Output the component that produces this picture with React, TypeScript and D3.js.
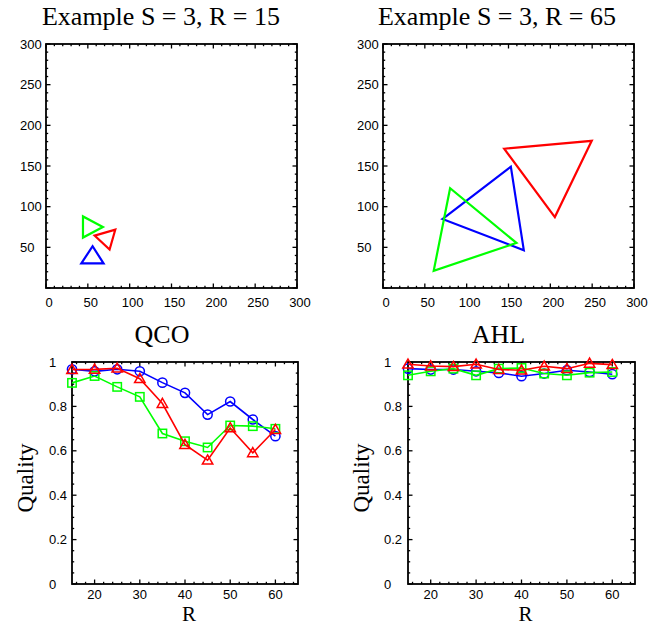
import React from "react";
import * as d3 from "d3";

// ---------- data ----------
const R_VALUES = [15, 20, 25, 30, 35, 40, 45, 50, 55, 60];

const QCO_BLUE = [0.967, 0.958, 0.967, 0.958, 0.907, 0.861, 0.763, 0.822, 0.741, 0.666];
const QCO_GREEN = [0.906, 0.937, 0.888, 0.843, 0.678, 0.643, 0.615, 0.714, 0.711, 0.699];
const QCO_RED = [0.966, 0.967, 0.972, 0.925, 0.813, 0.628, 0.558, 0.703, 0.591, 0.696];

const AHL_BLUE = [0.97, 0.966, 0.966, 0.958, 0.951, 0.936, 0.948, 0.963, 0.955, 0.945];
const AHL_GREEN = [0.94, 0.958, 0.97, 0.94, 0.97, 0.973, 0.948, 0.94, 0.952, 0.955];
const AHL_RED = [0.99, 0.982, 0.979, 0.99, 0.966, 0.963, 0.981, 0.97, 0.994, 0.988];

// triangles of the examples: [x, y] vertices
const EX15_GREEN: [number, number][] = [[44.2, 88], [44.2, 62], [68, 75]];
const EX15_RED: [number, number][] = [[58.1, 64.4], [82.8, 71.7], [76, 47.3]];
const EX15_BLUE: [number, number][] = [[42.2, 30.2], [68.8, 30.2], [55.7, 51.4]];

const EX65_RED: [number, number][] = [[144.8, 171.2], [249.5, 181], [205.4, 87.2]];
const EX65_BLUE: [number, number][] = [[71, 84.8], [152.8, 149.2], [168.3, 46.5]];
const EX65_GREEN: [number, number][] = [[80.2, 122.7], [60.6, 21.2], [159.5, 55.4]];

const TOP_X_TICKS = [0, 50, 100, 150, 200, 250, 300];
const TOP_Y_TICKS = [50, 100, 150, 200, 250, 300];
const BOT_X_TICKS = [20, 30, 40, 50, 60];
const BOT_Y_TICKS = [0, 0.2, 0.4, 0.6, 0.8, 1];

const BLUE = "#0000ff";
const RED = "#ff0000";
const GREEN = "#00ff00";

const SANS = "'Liberation Sans', Arial, Helvetica, sans-serif";
const SERIF = "'Liberation Serif', 'Times New Roman', serif";

type Box = { x0: number; x1: number; y0: number; y1: number };

function Frame({
  box, xs, ys, xMajor, xMinor, yMajor, yMinor,
}: {
  box: Box;
  xs: d3.ScaleLinear<number, number>;
  ys: d3.ScaleLinear<number, number>;
  xMajor: number[]; xMinor: number[]; yMajor: number[]; yMinor: number[];
}) {
  const MJ = 4.5, MN = 2.2;
  const lines: JSX.Element[] = [];
  const addX = (v: number, len: number, k: string) => {
    const x = xs(v);
    lines.push(<line key={"xb" + k} x1={x} x2={x} y1={box.y1} y2={box.y1 - len} />);
    lines.push(<line key={"xt" + k} x1={x} x2={x} y1={box.y0} y2={box.y0 + len} />);
  };
  const addY = (v: number, len: number, k: string) => {
    const y = ys(v);
    lines.push(<line key={"yl" + k} x1={box.x0} x2={box.x0 + len} y1={y} y2={y} />);
    lines.push(<line key={"yr" + k} x1={box.x1} x2={box.x1 - len} y1={y} y2={y} />);
  };
  xMajor.forEach((v, i) => addX(v, MJ, "M" + i));
  xMinor.forEach((v, i) => addX(v, MN, "m" + i));
  yMajor.forEach((v, i) => addY(v, MJ, "M" + i));
  yMinor.forEach((v, i) => addY(v, MN, "m" + i));
  return (
    <g stroke="#000" fill="none">
      <g strokeWidth={1.3}>{lines}</g>
      <rect x={box.x0} y={box.y0} width={box.x1 - box.x0} height={box.y1 - box.y0} strokeWidth={1.8} />
    </g>
  );
}

function TopPanel({ box, title, titleX, tris, labelX }: {
  box: Box; title: string; titleX: number;
  tris: { pts: [number, number][]; color: string }[]; labelX: number;
}) {
  const xs = d3.scaleLinear().domain([0, 300]).range([box.x0, box.x1]);
  const ys = d3.scaleLinear().domain([0, 300]).range([box.y1, box.y0]);
  const minor = d3.range(10, 300, 10).filter((v) => v % 50 !== 0);
  const line = d3.line<[number, number]>().x((d) => xs(d[0])).y((d) => ys(d[1])).curve(d3.curveLinearClosed);
  return (
    <g>
      <text x={titleX} y={25} textAnchor="middle" fontFamily={SERIF} fontSize={26}>{title}</text>
      {tris.map((t, i) => (
        <path key={i} d={line(t.pts) || ""} fill="none" stroke={t.color} strokeWidth={2.2} strokeLinejoin="miter" />
      ))}
      <Frame box={box} xs={xs} ys={ys} xMajor={TOP_X_TICKS} xMinor={minor} yMajor={[0, ...TOP_Y_TICKS]} yMinor={minor} />
      <g fontFamily={SANS} fontSize={13} fill="#000">
        {TOP_X_TICKS.map((v) => (
          <text key={"x" + v} x={xs(v) + 3} y={307} textAnchor="middle">{String(v)}</text>
        ))}
        {TOP_Y_TICKS.map((v) => (
          <text key={"y" + v} x={labelX} y={ys(v) + 4.5} textAnchor="start">{String(v)}</text>
        ))}
      </g>
    </g>
  );
}

function Marker({ type, x, y, color }: { type: string; x: number; y: number; color: string }) {
  if (type === "circle") return <circle cx={x} cy={y} r={4.6} fill="none" stroke={color} strokeWidth={1.5} />;
  if (type === "square") return <rect x={x - 4.2} y={y - 4.2} width={8.4} height={8.4} fill="none" stroke={color} strokeWidth={1.5} />;
  const s = 5.2;
  return (
    <path d={`M${x},${y - s}L${x + s},${y + s * 0.75}L${x - s},${y + s * 0.75}Z`} fill="none" stroke={color} strokeWidth={1.5} />
  );
}

function BottomPanel({ box, title, series, labelX }: {
  box: Box; title: string; labelX: number;
  series: { vals: number[]; color: string; marker: string }[];
}) {
  const xs = d3.scaleLinear().domain([15, 65]).range([box.x0, box.x1]);
  const ys = d3.scaleLinear().domain([0, 1]).range([box.y1, box.y0]);
  const xMinor = d3.range(16, 65, 2).filter((v) => v % 10 !== 0);
  const yMinor = d3.range(0.05, 1, 0.05).filter((v) => Math.abs(v * 5 - Math.round(v * 5)) > 1e-6);
  const line = d3.line<number>().x((_, i) => xs(R_VALUES[i])).y((d) => ys(d));
  const cx = (box.x0 + box.x1) / 2;
  const cy = (box.y0 + box.y1) / 2;
  return (
    <g>
      <text x={cx - 23} y={343} textAnchor="middle" fontFamily={SERIF} fontSize={26}>{title}</text>
      <Frame box={box} xs={xs} ys={ys} xMajor={BOT_X_TICKS} xMinor={xMinor} yMajor={BOT_Y_TICKS} yMinor={yMinor} />
      {series.map((s, si) => (
        <g key={si}>
          <path d={line(s.vals) || ""} fill="none" stroke={s.color} strokeWidth={1.6} />
          {s.vals.map((v, i) => (
            <Marker key={i} type={s.marker} x={xs(R_VALUES[i])} y={ys(v)} color={s.color} />
          ))}
        </g>
      ))}
      <g fontFamily={SANS} fontSize={13} fill="#000">
        {BOT_X_TICKS.map((v) => (
          <text key={"x" + v} x={xs(v)} y={599} textAnchor="middle">{String(v)}</text>
        ))}
        {BOT_Y_TICKS.map((v) => (
          <text key={"y" + v} x={labelX} y={ys(v) + 4.5} textAnchor="start">{d3.format("~g")(v)}</text>
        ))}
      </g>
      <text x={cx + 4} y={621} textAnchor="middle" fontFamily={SERIF} fontSize={21}>R</text>
      <text
        transform={`translate(${box.x0 - 39},${cy + 5}) rotate(-90)`}
        textAnchor="middle" fontFamily={SERIF} fontSize={23}
      >Quality</text>
    </g>
  );
}

export default function App() {
  return (
    <svg width={671} height={626} style={{ position: "absolute", left: 0, top: 0, background: "#fff" }}>
      <rect width={671} height={626} fill="#fff" />
      <TopPanel
        box={{ x0: 46, x1: 297, y0: 44, y1: 288 }}
        title="Example S = 3, R = 15" titleX={161} labelX={20}
        tris={[
          { pts: EX15_GREEN, color: GREEN },
          { pts: EX15_RED, color: RED },
          { pts: EX15_BLUE, color: BLUE },
        ]}
      />
      <TopPanel
        box={{ x0: 383, x1: 634, y0: 44, y1: 288 }}
        title="Example S = 3, R = 65" titleX={497} labelX={357}
        tris={[
          { pts: EX65_RED, color: RED },
          { pts: EX65_BLUE, color: BLUE },
          { pts: EX65_GREEN, color: GREEN },
        ]}
      />
      <BottomPanel
        box={{ x0: 72, x1: 298, y0: 362, y1: 584 }}
        title="QCO" labelX={49}
        series={[
          { vals: QCO_BLUE, color: BLUE, marker: "circle" },
          { vals: QCO_GREEN, color: GREEN, marker: "square" },
          { vals: QCO_RED, color: RED, marker: "triangle" },
        ]}
      />
      <BottomPanel
        box={{ x0: 408, x1: 635, y0: 362, y1: 584 }}
        title="AHL" labelX={384}
        series={[
          { vals: AHL_BLUE, color: BLUE, marker: "circle" },
          { vals: AHL_GREEN, color: GREEN, marker: "square" },
          { vals: AHL_RED, color: RED, marker: "triangle" },
        ]}
      />
    </svg>
  );
}
